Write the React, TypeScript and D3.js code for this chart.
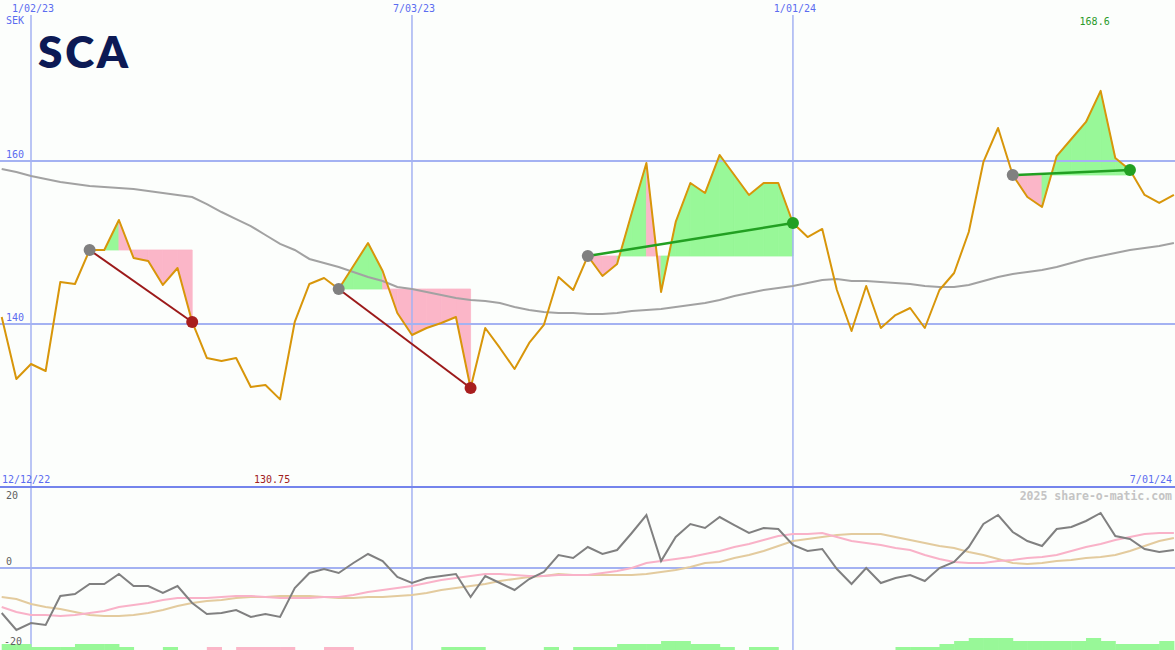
import React from "react";
import * as d3 from "d3";

// Weekly closing prices (SEK), 12/19/22 .. 7/01/24
const price = [
  140.86, 133.25, 135.09, 134.23, 145.15, 144.91, 149.08, 149.08, 152.76, 148.1,
  147.73, 144.79, 146.87, 140.25, 135.83, 135.46, 135.83, 132.27, 132.52, 130.75,
  140.25, 144.91, 145.64, 144.29, 147.12, 149.94, 146.5, 141.35, 138.65, 139.51,
  140.12, 140.86, 132.15, 139.51, 137.06, 134.48, 137.67, 139.88, 145.77, 144.17,
  148.34, 145.89, 147.36, 153.62, 159.75, 143.93, 152.52, 157.3, 156.07, 160.74,
  158.28, 155.83, 157.3, 157.3, 152.39, 150.67, 151.66, 144.17, 139.14, 144.66,
  139.51, 141.1, 141.96, 139.51, 144.17, 146.26, 151.29, 159.88, 164.05, 158.28,
  155.58, 154.36, 160.61, 162.7, 164.79, 168.6, 160.37, 158.9, 155.83, 154.85,
  155.83,
];

// Long moving average (grey)
const movingAvg = [
  159.02, 158.65, 158.16, 157.79, 157.42, 157.18, 156.93, 156.81, 156.69, 156.56,
  156.32, 156.07, 155.83, 155.58, 154.72, 153.74, 152.88, 152.02, 150.92, 149.82,
  149.08, 147.98, 147.48, 146.99, 146.38, 145.77, 145.28, 144.54, 144.29, 143.93,
  143.56, 143.19, 142.94, 142.82, 142.58, 142.09, 141.72, 141.47, 141.35, 141.35,
  141.23, 141.23, 141.35, 141.6, 141.72, 141.84, 142.09, 142.33, 142.58, 142.94,
  143.44, 143.8, 144.17, 144.42, 144.66, 145.03, 145.4, 145.52, 145.28, 145.28,
  145.15, 145.03, 144.91, 144.66, 144.54, 144.54, 144.79, 145.28, 145.77, 146.13,
  146.38, 146.63, 146.99, 147.48, 147.98, 148.34, 148.71, 149.08, 149.33, 149.57,
  149.94,
];

// Lower panel: oscillator (grey) and two signal lines
const oscillator = [
  -12.33, -16.99, -15.07, -15.62, -7.67, -7.12, -4.38, -4.38, -1.64, -4.93,
  -4.93, -6.85, -4.93, -9.59, -12.6, -12.33, -11.51, -13.42, -12.6, -13.42,
  -5.48, -1.37, -0.27, -1.37, 1.37, 3.84, 1.92, -2.47, -4.11, -2.74,
  -2.19, -1.64, -7.95, -2.19, -4.11, -6.03, -3.01, -1.1, 3.56, 2.74,
  5.75, 3.84, 4.93, 9.59, 14.52, 1.92, 8.49, 12.05, 10.96, 13.97,
  11.78, 9.59, 10.96, 10.68, 6.3, 4.66, 5.21, -0.27, -4.38, 0,
  -4.11, -2.74, -1.92, -3.56, 0, 1.64, 5.75, 12.05, 14.52, 9.86,
  7.4, 6.03, 10.68, 11.23, 12.88, 15.07, 8.77, 7.95, 5.21, 4.38,
  4.93,
];

const signalPink = [
  -10.68, -12.05, -12.88, -12.88, -13.15, -12.88, -12.33, -11.78, -10.68, -10.14,
  -9.59, -8.77, -8.22, -8.22, -8.22, -7.95, -7.67, -7.67, -7.95, -8.22,
  -8.22, -8.22, -7.95, -7.95, -7.4, -6.58, -6.03, -5.48, -4.93, -4.11,
  -3.29, -2.74, -2.19, -1.64, -1.64, -1.92, -2.19, -2.19, -1.92, -1.92,
  -1.92, -1.37, -0.82, 0, 1.37, 1.92, 2.47, 3.01, 3.84, 4.66,
  5.75, 6.58, 7.67, 8.77, 9.32, 9.32, 9.59, 8.49, 7.4, 6.85,
  6.3, 5.48, 4.93, 3.56, 2.47, 1.64, 1.37, 1.37, 1.92, 2.19,
  2.74, 3.01, 3.56, 4.66, 5.75, 6.58, 7.67, 8.49, 9.32, 9.59,
  9.59,
];

const signalTan = [
  -7.95, -8.49, -9.86, -10.68, -11.23, -12.05, -12.88, -13.15, -13.15, -12.88,
  -12.33, -11.51, -10.4, -9.59, -9.04, -8.77, -8.22, -7.95, -7.95, -7.67,
  -7.67, -7.67, -7.95, -8.22, -8.22, -7.95, -7.95, -7.67, -7.4, -6.85,
  -6.03, -5.48, -4.93, -4.38, -3.56, -3.01, -2.47, -2.19, -1.64, -1.92,
  -1.92, -1.92, -1.92, -1.92, -1.64, -1.1, -0.55, 0.27, 1.37, 1.64,
  2.74, 3.56, 4.66, 6.03, 7.4, 7.95, 8.49, 9.04, 9.32, 9.32,
  9.32, 8.49, 7.67, 6.85, 6.03, 5.48, 4.38, 3.56, 2.47, 1.37,
  1.1, 1.37, 1.92, 2.19, 2.74, 3.01, 3.56, 4.66, 6.03, 7.4,
  8.22,
];

// Histogram strength levels (positive = green, negative = pink)
const histogram = [
  2, 2, 1, 1, 1, 2, 2, 2, 1, 0,
  0, 1, 0, 0, -1, 0, -1, -1, -1, -1,
  0, 0, -1, -1, 0, 0, 0, 0, 0, 0,
  1, 1, 1, 0, 0, 0, 0, 1, 0, 1,
  1, 1, 2, 2, 2, 3, 3, 2, 2, 1,
  0, 1, 1, 0, 0, 0, 0, 0, 0, 0,
  0, 1, 1, 1, 2, 3, 4, 4, 4, 3,
  3, 3, 3, 3, 4, 3, 2, 2, 2, 3,
  0,
];

// Trades: start index -> end index
const tradeStarts = [6, 23, 40, 69];
const tradeEnds = [13, 32, 54, 77];

const gridDates = ["2023-01-02", "2023-07-03", "2024-01-01"];
const gridLabels = ["1/02/23", "7/03/23", "1/01/24"];
const priceTicks = [160, 140];
const oscTicks = [20, 0, -20];

const W = 1175;
const H = 650;

export default function App() {
  const start = Date.UTC(2022, 11, 19);
  const dates = price.map((_, i) => new Date(start + i * 7 * 864e5));
  const x = d3
    .scaleUtc()
    .domain([dates[0], dates[dates.length - 1]])
    .range([1.7, 1173.9]);
  const y = d3.scaleLinear().domain([140, 160]).range([324, 161]);
  const yo = d3.scaleLinear().domain([-20, 20]).range([641, 495]);
  const yh = d3.scaleLinear().domain([0, 4]).range([650, 638]);

  const xi = (i: number) => x(dates[i]);
  const lineP = d3
    .line<number>()
    .x((_, i) => xi(i))
    .y((d) => y(d));
  const lineO = d3
    .line<number>()
    .x((_, i) => xi(i))
    .y((d) => yo(d));

  const fills: JSX.Element[] = [];
  tradeStarts.forEach((s, t) => {
    const e = tradeEnds[t];
    const base = price[s];
    for (let k = s; k < e; k++) {
      const v = price[k + 1];
      if (v === base) continue;
      const col = v > base ? "#98f898" : "#fbb6c8";
      const pts = [
        [xi(k), y(base)],
        [xi(k), y(price[k])],
        [xi(k + 1), y(v)],
        [xi(k + 1), y(base)],
      ];
      fills.push(
        <polygon
          key={`f${t}-${k}`}
          points={pts.map((p) => p.join(",")).join(" ")}
          fill={col}
          stroke={col}
          strokeWidth={0.8}
        />
      );
    }
  });

  const mono = "'DejaVu Sans Mono', monospace";
  const blue = "#5b6cf0";
  const grid = "#a4b2f2";

  const maxI = price.indexOf(d3.max(price) as number);
  const minI = price.indexOf(d3.min(price) as number);

  return (
    <svg
      width={W}
      height={H}
      style={{ position: "absolute", left: 0, top: 0, background: "#fcfefc" }}
    >
      <rect x={0} y={0} width={W} height={H} fill="#fcfefc" />
      {fills}
      {/* grid */}
      {gridDates.map((d, i) => {
        const gx = x(new Date(d + "T00:00:00Z"));
        return (
          <g key={d}>
            <line x1={gx} x2={gx} y1={15} y2={H} stroke={grid} strokeWidth={1.5} />
            <text x={gx + 2} y={12} fontFamily={mono} fontSize={10} fill={blue} textAnchor="middle">
              {gridLabels[i]}
            </text>
          </g>
        );
      })}
      {priceTicks.map((t) => (
        <g key={t}>
          <line x1={0} x2={W} y1={y(t)} y2={y(t)} stroke={grid} strokeWidth={2} />
          <text x={6} y={y(t) - 3} fontFamily={mono} fontSize={10} fill={blue}>
            {t}
          </text>
        </g>
      ))}
      <line x1={0} x2={W} y1={yo(0)} y2={yo(0)} stroke={grid} strokeWidth={2} />
      <line x1={0} x2={W} y1={487} y2={487} stroke="#7484ec" strokeWidth={2} />

      <text x={6} y={24} fontFamily={mono} fontSize={10} fill={blue}>SEK</text>
      <text
        x={38}
        y={68}
        fontFamily="Lato, 'Open Sans', sans-serif"
        fontWeight={800}
        fontSize={44}
        fill="#0c1a55"
        textLength={90}
        lengthAdjust="spacing"
      >
        SCA
      </text>

      {/* moving average */}
      <path d={lineP(movingAvg) || ""} fill="none" stroke="#a2a2a2" strokeWidth={2} />
      {/* price */}
      <path d={lineP(price) || ""} fill="none" stroke="#d8960a" strokeWidth={2} strokeLinejoin="round" />

      {tradeStarts.map((s, t) => {
        const e = tradeEnds[t];
        const win = price[e] > price[s];
        return (
          <g key={`t${t}`}>
            <line
              x1={xi(s)}
              y1={y(price[s])}
              x2={xi(e)}
              y2={y(price[e])}
              stroke={win ? "#22a022" : "#9c1a1a"}
              strokeWidth={win ? 2.5 : 2}
            />
            <circle cx={xi(s)} cy={y(price[s])} r={6} fill="#808080" />
            <circle cx={xi(e)} cy={y(price[e])} r={6} fill={win ? "#22a022" : "#a81e1e"} />
          </g>
        );
      })}

      <text x={xi(maxI) - 6} y={25} fontFamily={mono} fontSize={10} fill="#2a9a2a" textAnchor="middle">
        {d3.max(price)}
      </text>
      <text x={xi(minI) - 8} y={483} fontFamily={mono} fontSize={10} fill="#a02020" textAnchor="middle">
        {d3.min(price)}
      </text>
      <text x={2} y={483} fontFamily={mono} fontSize={10} fill={blue}>12/12/22</text>
      <text x={1172} y={483} fontFamily={mono} fontSize={10} fill={blue} textAnchor="end">7/01/24</text>
      <text x={1172} y={500} fontFamily={mono} fontSize={11.5} fontWeight="bold" fill="#c4c4c4" textAnchor="end">
        2025 share-o-matic.com
      </text>

      {/* lower panel */}
      {histogram.map((h, i) =>
        h === 0 || i >= histogram.length - 1 ? null : (
          <rect
            key={`h${i}`}
            x={xi(i)}
            width={xi(i + 1) - xi(i) + 0.5}
            y={yh(Math.abs(h))}
            height={yh(0) - yh(Math.abs(h))}
            fill={h > 0 ? "#98f898" : "#fbb6c8"}
          />
        )
      )}
      {oscTicks.map((t) => (
        <text
          key={`o${t}`}
          x={t < 0 ? 4 : 6}
          y={yo(t) + (t === 0 ? -3 : 4)}
          fontFamily={mono}
          fontSize={10}
          fill="#606060"
        >
          {t}
        </text>
      ))}
      <path d={lineO(signalTan) || ""} fill="none" stroke="#e3cb9e" strokeWidth={2} />
      <path d={lineO(signalPink) || ""} fill="none" stroke="#f9b2c8" strokeWidth={2} />
      <path d={lineO(oscillator) || ""} fill="none" stroke="#808080" strokeWidth={2} />
    </svg>
  );
}
